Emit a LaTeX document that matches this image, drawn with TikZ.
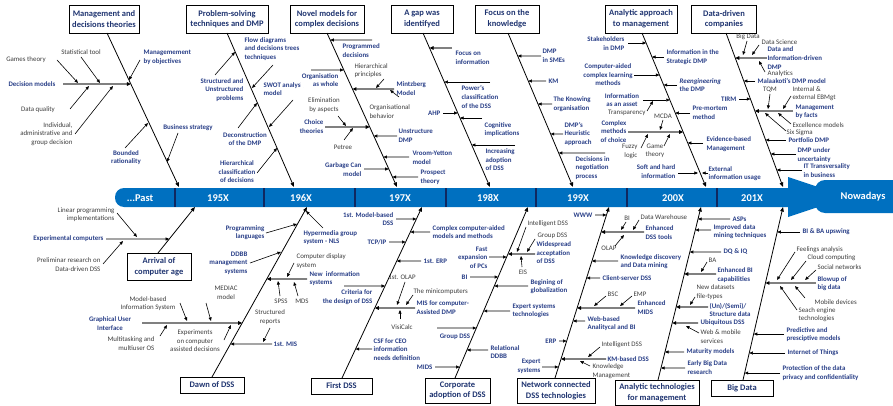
\documentclass[tikz,border=0pt]{standalone}
\usepackage{fontspec}
\setmainfont{Carlito}
\usetikzlibrary{arrows.meta}
\definecolor{bandblue}{RGB}{0,112,192}
\definecolor{sepnavy}{RGB}{16,40,96}
\definecolor{lblue}{RGB}{40,62,135}
\definecolor{catblue}{RGB}{31,52,112}
\definecolor{gtext}{RGB}{60,60,60}
\definecolor{barg}{RGB}{128,128,128}
\newcommand{\tosp}[4]{\draw[#1] (#3,#4) -- (intersection of #2a--#2b and 0,#4--1,#4);}
\tikzset{
 cat/.style={draw=black, line width=0.8pt, fill=white, text=catblue, font=\bfseries\fontsize{8.5}{10.6}\selectfont, align=center, inner xsep=2pt, inner ysep=1pt},
 bl/.style={text=lblue, font=\bfseries\fontsize{6.9}{8.6}\selectfont, inner sep=0.4pt},
 gr/.style={text=gtext, font=\fontsize{6.9}{8.6}\selectfont, inner sep=0.4pt},
 wl/.style={anchor=west, align=left},
 er/.style={anchor=east, align=right},
 cc/.style={align=center},
 arr/.style={black, line width=0.6pt, -{Triangle[length=3.6pt,width=3pt]}},
 bar/.style={barg, line width=1.8pt, -{Triangle[length=4pt,width=3.6pt,color=black]}},
 spine/.style={black, line width=0.8pt, -{Triangle[length=4.5pt,width=3.6pt]}},
 sepl/.style={sepnavy, line width=1.4pt},
 bandlab/.style={text=white, font=\bfseries\fontsize{10.4}{12}\selectfont, inner sep=0pt},
}
\begin{document}
\begin{tikzpicture}[x=1pt,y=-1pt]
\useasboundingbox (0,0) rectangle (893,406);
% ---------------- time band
\fill[bandblue,rounded corners=9pt] (792,188) -- (115,188) -- (115,207) -- (792,207);
\fill[bandblue] (788,177) -- (848,197) -- (788,217) -- cycle;
\fill[bandblue,rounded corners=10pt] (893,180) -- (815,180) -- (815,213) -- (893,213);
\foreach \sx in {175,264,355,446,536,627,717} \draw[sepl] (\sx,188) -- (\sx,207);
\node[bandlab] (l0) at (140,198) {...Past};
\node[bandlab] (l1) at (218,198) {195X};
\node[bandlab] (l2) at (301,198) {196X};
\node[bandlab] (l3) at (400,198) {197X};
\node[bandlab] (l4) at (488,198) {198X};
\node[bandlab] (l5) at (578,198) {199X};
\node[bandlab] (l6) at (673,198) {200X};
\node[bandlab] (l7) at (752,198) {201X};
\node[bandlab] (l8) at (863,197) {Nowadays};
% ---------------- top categories
\node[cat,minimum width=70pt,minimum height=28pt] (c1) at (104,19) {Management and\\decisions theories};
\node[cat,minimum width=82pt,minimum height=28pt] (c2) at (227,19) {Problem-solving\\techniques and DMP};
\node[cat,minimum width=74pt,minimum height=28pt] (c3) at (327,19) {Novel models for\\complex decisions};
\node[cat,minimum width=62pt,minimum height=28pt] (c4) at (422,19) {A gap was\\identifyed};
\node[cat,minimum width=64pt,minimum height=28pt] (c5) at (507,19) {Focus on the\\knowledge};
\node[cat,minimum width=72pt,minimum height=28pt] (c6) at (641,19) {Analytic approach\\to management};
\node[cat,minimum width=65pt,minimum height=28pt] (c7) at (724,19) {Data-driven\\companies};
\coordinate (S1a) at (107,33); \coordinate (S1b) at (179,187);
\coordinate (S2a) at (227,33); \coordinate (S2b) at (294,187);
\coordinate (S3a) at (327,33); \coordinate (S3b) at (397,187);
\coordinate (S4a) at (423,33); \coordinate (S4b) at (490,187);
\coordinate (S5a) at (508,33); \coordinate (S5b) at (573,187);
\coordinate (S6a) at (642,33); \coordinate (S6b) at (706,187);
\coordinate (S7a) at (726,33); \coordinate (S7b) at (783,187);
\foreach \k in {1,...,7} \draw[spine] (S\k a) -- (S\k b);
% S1
\node[bl,er] (t1) at (56,84) {Decision models};
\tosp{bar}{S1}{63}{84}
\node[gr] (t2) at (26,60) {Games theory};
\draw[arr] (57,60) -- (78,83);
\node[gr] (t3) at (81,52) {Statistical tool};
\draw[arr] (81,57) -- (100,83);
\node[gr] (t4) at (38,110) {Data quality};
\draw[arr] (70,109) -- (89,86);
\node[gr,er] (t5) at (73,134) {Individual,\\administrative and\\group decision};
\draw[arr] (75,134) -- (113,86);
\node[bl,wl] (t6) at (143,57.5) {Managemement\\by objectives};
\draw[arr] (140,60) -- (129,80);
\node[bl] (t7) at (188,128) {Business strategy};
\draw[arr] (178,133) -- (167,162);
\node[bl,cc] (t8) at (126,157.5) {Bounded\\rationality};
\draw[arr] (125,148) -- (148,123);
% S2
\node[bl,wl] (u1) at (244,49) {Flow diagrams\\and decisions trees\\techniques};
\draw[arr] (273,65) -- (252,88);
\node[bl,er] (u2) at (244,90) {Structured and\\Unstructured\\problems};
\draw[arr] (215,75) -- (235,52);
\node[bl,wl] (u3) at (263,89) {SWOT analysis\\model};
\draw[arr] (293,100) -- (269,127);
\node[bl,cc] (u4) at (245,139) {Deconstruction\\of the DMP};
\draw[arr] (238,128) -- (257,103);
\node[bl,cc] (u5) at (237,172) {Hierarchical\\classification\\of decisions};
\draw[arr] (257,173) -- (277,148);
% S3
\node[bl,wl] (v1) at (342,50.5) {Programmed\\decisions};
\tosp{arr}{S3}{372}{40}
\node[bl,er,fill=white] (v2) at (339,80) {Organisation\\as whole};
\tosp{arr}{S3}{311}{70}
\node[gr,wl] (v3) at (354,70.5) {Hierarchical\\principles};
\node[bl,wl] (v4) at (396,88.5) {Mintzberg\\Model};
\tosp{bar}{S3}{394}{89}
\draw[arr] (384,79) -- (376,88);
\node[gr,wl] (v5) at (369,111.5) {Organisational\\behavior};
\draw[arr] (399,97) -- (390,90);
\node[gr,cc] (v6) at (324,105) {Elimination\\by aspects};
\node[bl,er] (v7) at (324,126.5) {Choice\\theories};
\tosp{bar}{S3}{325}{127}
\draw[arr] (338,116) -- (346,126);
\node[gr] (v8) at (343,147) {Petree};
\draw[arr] (344,140) -- (353,128);
\node[bl,wl] (v9) at (398,136) {Unstructure\\DMP};
\tosp{arr}{S3}{397}{136}
\node[bl,wl] (v10) at (412,157.5) {Vroom-Yetton\\model};
\tosp{arr}{S3}{409}{157}
\node[bl,er] (v11) at (362,169.5) {Garbage Can\\model};
\tosp{arr}{S3}{364}{169}
\node[bl,wl] (v12) at (420,177.5) {Prospect\\theory};
\tosp{arr}{S3}{418}{177}
% S4
\node[bl,wl] (w1) at (455,57.5) {Focus on\\information};
\tosp{bar}{S4}{452}{48}
\node[bl,wl] (w2) at (461,97) {Power's\\classification\\of the DSS};
\tosp{arr}{S4}{490}{82}
\node[bl,er] (w3) at (441,113) {AHP};
\tosp{arr}{S4}{443}{113}
\node[bl,wl] (w4) at (484,129.5) {Cognitive\\implications};
\tosp{arr}{S4}{482}{118}
\node[bl,wl] (w5) at (485,160) {Increasing\\adoption\\of DSS};
\tosp{arr}{S4}{515}{145}
% S5
\node[bl,wl] (x1) at (542,56) {DMP\\in SMEs};
\tosp{arr}{S5}{541}{56}
\node[bl,wl] (x2) at (548,81) {KM};
\tosp{arr}{S5}{546}{81}
\node[bl,wl] (x3) at (553,104) {The Knowing\\organisation};
\tosp{arr}{S5}{552}{104}
\node[bl,wl] (x4) at (564,134) {DMP's\\Heuristic\\approach};
\tosp{arr}{S5}{563}{134}
\node[bl,wl] (x5) at (575,168) {Decisions in\\negotiation\\process};
\tosp{arr}{S5}{605}{153}
% S6
\node[bl,er] (y1) at (625,43.5) {Stakeholders\\in DMP};
\tosp{arr}{S6}{628}{43}
\node[bl,wl] (y2) at (666,57) {Information in the\\Strategic DMP};
\tosp{arr}{S6}{664}{57}
\node[bl,cc] (y3) at (608,75) {Computer-aided\\complex learning\\methods};
\tosp{arr}{S6}{634}{75}
\node[bl,wl] (y4) at (679,85) {\textit{Reengineering}\\the DMP};
\tosp{arr}{S6}{677}{85}
\node[bl,cc] (y5) at (622,100) {Information\\as an asset};
\tosp{arr}{S6}{643}{100}
\node[gr,er] (y6) at (646,113) {Transparency};
\draw[arr] (647,111) -- (653,101);
\node[bl,wl] (y7) at (692,112.5) {Pre-mortem\\method};
\tosp{arr}{S6}{690}{113}
\node[gr] (y8) at (663,116) {MCDA};
\draw[arr] (663,120) -- (660,130);
\node[bl,er] (y9) at (627,131.5) {Complex\\methods\\of choice};
\tosp{bar}{S6}{628}{132}
\node[gr,er] (y10) at (638,151.5) {Fuzzy\\logic};
\draw[arr] (641,148) -- (648,134);
\node[gr,cc] (y11) at (655,151) {Game\\theory};
\draw[arr] (664,146) -- (670,134);
\node[bl,wl] (y12) at (706,144) {Evidence-based\\Management};
\tosp{arr}{S6}{703}{143}
\node[bl,er] (y13) at (676,171.5) {Soft and hard\\information};
\draw[arr] (678,173) -- (698,173);
\node[bl,wl] (y14) at (708,173.5) {External\\information usage};
\draw[arr] (708,173) -- (702,173);
% S7
\node[gr] (z1) at (748,37) {Big Data};
\draw[arr] (747,41) -- (743,55);
\node[gr,wl] (z2) at (761,42) {Data Science};
\draw[arr] (759,45) -- (752,55);
\node[bl,wl] (z3) at (767,58) {Data and\\Information-driven\\DMP};
\tosp{bar}{S7}{767}{58}
\node[gr,wl] (z4) at (767,74) {Analytics};
\draw[arr] (765,72) -- (759,61);
\node[bl,wl] (z5) at (757,81) {Malaakoti's DMP model};
\tosp{arr}{S7}{755}{81}
\node[bl,er] (z6) at (737,99) {TIRM};
\tosp{arr}{S7}{739}{99}
\node[gr] (z7) at (770,90) {TQM};
\draw[arr] (770,94) -- (768,109);
\node[gr,wl] (z8) at (792,93.5) {Internal \&\\external EBMgt};
\draw[arr] (791,96) -- (783,109);
\node[bl,wl] (z9) at (795,112) {Management\\by facts};
\tosp{bar}{S7}{793}{111}
\node[gr,wl] (z10) at (792,125.5) {Excellence models};
\draw[arr] (791,124) -- (778,113);
\node[gr,wl] (z11) at (786,132.5) {Six Sigma};
\draw[arr] (786,131) -- (765,113);
\node[bl,wl] (z12) at (788,140.5) {Portfolio DMP};
\tosp{arr}{S7}{786}{140}
\node[bl,wl] (z13) at (797,155) {DMP under\\uncertainty};
\tosp{arr}{S7}{796}{154}
\node[bl,wl] (z14) at (803,170.5) {IT Transversality\\in business};
\tosp{arr}{S7}{802}{170}
% ---------------- bottom categories
\node[cat,minimum width=64pt,minimum height=27pt] (b1) at (159,266.5) {Arrival of\\computer age};
\node[cat,minimum width=64pt,minimum height=16pt] (b2) at (212,385) {Dawn of DSS};
\node[cat,minimum width=61pt,minimum height=16pt] (b3) at (341.5,386) {First DSS};
\node[cat,minimum width=65pt,minimum height=25pt] (b4) at (457.5,390.5) {Corporate\\adoption of DSS};
\node[cat,minimum width=78pt,minimum height=25pt] (b5) at (556,390.5) {Network connected\\DSS technologies};
\node[cat,minimum width=84pt,minimum height=25pt] (b6) at (657,392.5) {Analytic technologies\\for management};
\node[cat,minimum width=62pt,minimum height=16pt] (b7) at (742,388) {Big Data};
\coordinate (B1a) at (158,253); \coordinate (B1b) at (195,207);
\coordinate (B2a) at (212,377); \coordinate (B2b) at (307,207);
\coordinate (B3a) at (342,378); \coordinate (B3b) at (422,207);
\coordinate (B4a) at (455,378); \coordinate (B4b) at (528,207);
\coordinate (B5a) at (555,378); \coordinate (B5b) at (609,207);
\coordinate (B6a) at (658,380); \coordinate (B6b) at (701,207);
\coordinate (B7a) at (743,380); \coordinate (B7b) at (783,207);
\foreach \k in {1,...,7} \draw[spine] (B\k a) -- (B\k b);
% B1
\node[bl,er] (p1) at (104,239) {Experimental computers};
\tosp{arr}{B1}{106}{239}
\node[gr,er] (p2) at (115,214.5) {Linear programming\\implementations};
\draw[arr] (117,213) -- (137,237);
\node[gr,er] (p3) at (101,264.5) {Preliminar research on\\Data-driven DSS};
\draw[arr] (103,264) -- (123,241);
% B2
\node[bl,er] (q1) at (265,232.5) {Programming\\languages};
\draw[arr] (266,233) -- (297,224);
\node[bl,wl] (q2) at (303,237.5) {Hypermedia group\\system - NLS};
\draw[arr] (323,228) -- (306,211);
\node[bl,er] (q3) at (248,263) {DDBB\\management\\systems};
\draw[arr] (250,263) -- (281,252);
\node[gr,wl] (q4) at (296,261) {Computer display\\system};
\draw[arr] (294,263) -- (287,277);
\node[bl,wl] (q5) at (309,278.5) {New\ \ information\\systems};
\tosp{bar}{B2}{307}{279}
\node[gr] (q6) at (281,301) {SPSS};
\draw[arr] (280,296) -- (278,281);
\node[gr] (q7) at (302,301) {MDS};
\draw[arr] (298,296) -- (294,282);
\node[gr,cc] (q8) at (226,292.5) {MEDIAC\\model};
\draw[arr] (206,303) -- (211,321);
\node[gr,cc] (q9) at (148,303.5) {Model-based\\Information System};
\draw[arr] (180,303) -- (187,321);
\node[bl,cc] (q10) at (110,323.5) {Graphical User\\Interface};
\tosp{bar}{B2}{142}{323}
\node[gr,er] (q11) at (155,343.5) {Multitasking and\\multiuser OS};
\draw[arr] (160,336) -- (167,325);
\node[gr,cc] (q12) at (195,341) {Experiments\\on computer\\assisted decisions};
\draw[arr] (224,340) -- (231,325);
\node[gr,cc] (q13) at (270,317) {Structured\\reports};
\draw[arr] (270,328) -- (263,342);
\node[bl,wl] (q14) at (273,344) {1st. MIS};
\tosp{arr}{B2}{272}{344}
% B3
\node[bl,er] (r1) at (394,219) {1st. Model-based\\DSS};
\tosp{arr}{B3}{396}{219}
\node[bl,er] (r2) at (387,242) {TCP/IP};
\tosp{arr}{B3}{389}{242}
\node[bl,wl] (r3) at (432,232) {Complex computer-aided\\models and methods};
\tosp{arr}{B3}{430}{232}
\node[bl,wl] (r4) at (423,261) {1st. ERP};
\tosp{arr}{B3}{421}{261}
\node[gr] (r5) at (402,277) {1st. OLAP};
\draw[arr] (405,282) -- (397,305);
\node[gr,wl] (r6) at (413,292) {The minicomputers};
\draw[arr] (413,295) -- (406,305);
\node[bl,wl] (r7) at (416,307.5) {MIS for computer-\\Assisted DMP};
\tosp{bar}{B3}{415}{308}
\node[gr] (r8) at (402,327) {VisiCalc};
\draw[arr] (400,319) -- (400,310);
\node[bl,er] (r9) at (373,297) {Criteria for\\the design of DSS};
\tosp{arr}{B3}{344}{286}
\node[bl,wl] (r10) at (373,349.5) {CSF for CEO\\information\\needs definition};
\tosp{arr}{B3}{372}{349}
\node[bl,er] (r11) at (433,367) {MIDS};
% B4
\tosp{arr}{B4}{435}{367}
\node[gr,wl] (s1) at (527,224) {Intelligent DSS};
\draw[arr] (526,227) -- (517,252);
\node[gr,wl] (s2) at (537,236) {Group DSS};
\draw[arr] (535,239) -- (527,252);
\node[bl,wl] (s3) at (536,253) {Widespread\\acceptation\\of DSS};
\tosp{bar}{B4}{535}{254}
\node[gr] (s4) at (523,272) {EIS};
\draw[arr] (522,267) -- (521,256);
\node[bl,er] (s5) at (488,257.5) {Fast\\expansion\\of PCs};
\tosp{arr}{B4}{489}{257}
\node[bl,er] (s6) at (468,277) {BI};
\tosp{arr}{B4}{470}{277}
\node[bl,wl] (s7) at (530,286.5) {Begining of\\globalization};
\tosp{arr}{B4}{528}{286}
\node[bl,wl] (s8) at (512,311) {Expert systems\\technologies};
\tosp{arr}{B4}{510}{311}
\node[bl] (s9) at (455,337) {Group DSS};
\tosp{arr}{B4}{437}{328}
\node[bl,wl] (s10) at (490,352) {Relational\\DDBB};
\tosp{arr}{B4}{488}{350}
% B5
\node[bl,er] (k1) at (593,215) {WWW};
\tosp{arr}{B5}{595}{215}
\node[gr] (k2) at (627,218) {BI};
\draw[arr] (626,222) -- (621,230);
\node[gr,wl] (k3) at (640,217) {Data Warehouse};
\draw[arr] (639,220) -- (633,230);
\node[bl,wl] (k4) at (645,232.5) {Enhanced\\DSS tools};
\tosp{bar}{B5}{644}{232}
\node[gr] (k5) at (609,248) {OLAP};
\draw[arr] (615,246) -- (624,235);
\node[bl,wl] (k6) at (620,261.5) {Knowledge discovery\\and Data mining};
\tosp{arr}{B5}{618}{261}
\node[bl,wl] (k7) at (602,278) {Client-server DSS};
\tosp{arr}{B5}{600}{278}
\node[gr,wl] (k8) at (607,294) {BSC};
\draw[arr] (606,296) -- (594,306);
\node[gr,wl] (k9) at (633,294) {EMP};
\draw[arr] (632,296) -- (620,306);
\node[bl,wl] (k10) at (637,307.5) {Enhanced\\MIDS};
\tosp{bar}{B5}{635}{308}
\node[bl,wl] (k11) at (587,323.5) {Web-based\\Analitycal and BI};
\tosp{arr}{B5}{585}{321}
\node[bl,er] (k12) at (557,341) {ERP};
\tosp{arr}{B5}{559}{341}
\node[gr,wl] (k13) at (601,345) {Intelligent DSS};
\draw[arr] (600,347) -- (588,357);
\node[bl,wl] (k14) at (607,359) {KM-based DSS};
\tosp{bar}{B5}{606}{359}
\node[gr,wl] (k15) at (592,371) {Knowledge\\Management};
\draw[arr] (590,366) -- (580,361);
\node[bl,er] (k16) at (541,366.5) {Expert\\systems};
\tosp{arr}{B5}{542}{367}
% B6
\node[bl,wl] (m1) at (732,219) {ASPs};
\tosp{arr}{B6}{730}{219}
\node[bl,wl] (m2) at (713,231.5) {Improved data\\mining techniques};
\tosp{arr}{B6}{711}{230}
\node[bl,wl] (m3) at (723,252) {DQ \& IQ};
\tosp{arr}{B6}{721}{252}
\node[gr,wl] (m4) at (708,260) {BA};
\draw[arr] (707,262) -- (701,272);
\node[bl,wl] (m5) at (717,275) {Enhanced BI\\capabilities};
\tosp{bar}{B6}{716}{274}
\node[gr,wl] (m6) at (696,292) {New datasets\\file-types};
\draw[arr] (695,297) -- (690,305);
\node[bl,wl] (m7) at (709,310) {(Un)/(Semi)/\\Structure data};
\tosp{bar}{B6}{708}{307}
\node[bl,wl] (m8) at (700,323) {Ubiquitous DSS};
\tosp{bar}{B6}{698}{323}
\node[gr,wl] (m9) at (700,336.5) {Web \& mobile\\services};
\draw[arr] (699,333) -- (686,326);
\node[bl,wl] (m10) at (686,352) {Maturity models};
\tosp{arr}{B6}{684}{352}
\node[bl,wl] (m11) at (687,367.5) {Early Big Data\\research};
\tosp{arr}{B6}{685}{368}
% B7
\node[bl,wl] (g1) at (802,232) {BI \& BA upswing};
\tosp{arr}{B7}{800}{232}
\node[gr,wl] (g2) at (796,250) {Feelings analysis};
\draw[arr] (795,252) -- (777,280);
\node[gr,wl] (g3) at (807,258) {Cloud computing};
\draw[arr] (806,261) -- (791,280);
\node[gr,wl] (g4) at (817,267) {Social networks};
\draw[arr] (816,270) -- (805,280);
\node[bl,wl] (g5) at (817,283.5) {Blowup of\\big data};
\tosp{bar}{B7}{816}{283}
\node[gr,wl] (g6) at (814,302) {Mobile devices};
\draw[arr] (805,298) -- (795,286);
\node[gr,wl] (g7) at (798,314.5) {Seach engine\\technologies};
\draw[arr] (797,310) -- (780,286);
\node[bl,wl] (g8) at (786,334.5) {Predictive and\\presciptive models};
\tosp{arr}{B7}{784}{334}
\node[bl,wl] (g9) at (787,353) {Internet of Things};
\tosp{arr}{B7}{785}{353}
\node[bl,wl] (g10) at (782,373) {Protection of the data\\privacy and confidentiality};
\tosp{arr}{B7}{780}{373}
\end{tikzpicture}
\end{document}
